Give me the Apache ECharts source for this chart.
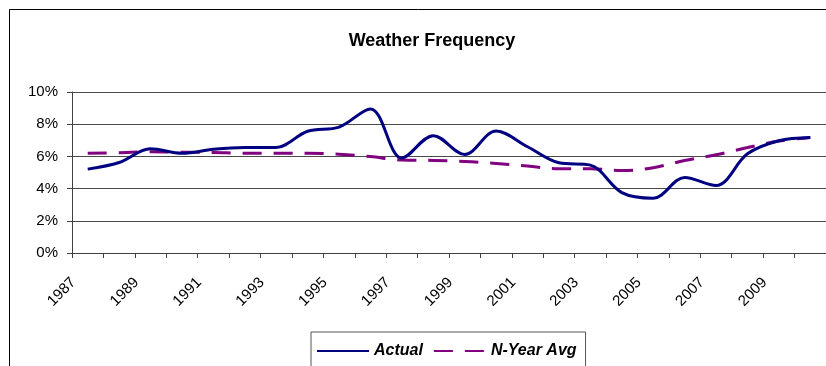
<!DOCTYPE html>
<html>
<head>
<meta charset="utf-8">
<script src="https://cdn.jsdelivr.net/npm/echarts@6/dist/echarts.min.js"></script>
<style>
html,body{margin:0;padding:0;background:#fff;}
#chart{width:826px;height:366px;}
</style>
</head>
<body>
<div id="chart"></div>
<script>
var years = ['1987','1988','1989','1990','1991','1992','1993','1994','1995','1996','1997','1998',
             '1999','2000','2001','2002','2003','2004','2005','2006','2007','2008','2009','2010'];
var actual = [5.21, 5.62, 6.47, 6.19, 6.44, 6.56, 6.56, 7.56, 7.82, 8.95, 5.90, 7.29,
              6.12, 7.58, 6.60, 5.60, 5.46, 3.75, 3.40, 4.69, 4.19, 6.16, 6.97, 7.17];
var nYearAvg = [6.19, 6.23, 6.29, 6.26, 6.24, 6.20, 6.20, 6.19, 6.14, 5.99, 5.77, 5.75,
                5.69, 5.56, 5.40, 5.23, 5.23, 5.12, 5.30, 5.74, 6.10, 6.55, 6.95, 7.18];
var yTicks = [0, 2, 4, 6, 8, 10];

var FONT = 'Liberation Sans';
var chart = echarts.init(document.getElementById('chart'), null, {renderer: 'canvas'});
chart.setOption({
  animation: false,
  backgroundColor: '#ffffff',
  title: {
    text: 'Weather Frequency',
    left: 427, textAlign: 'center', top: 27,
    textStyle: {fontFamily: FONT, fontSize: 18, fontWeight: 'bold', color: '#000'}
  },
  graphic: [{
    type: 'rect', shape: {x: 9.5, y: 9.5, width: 900, height: 400},
    style: {fill: 'none', stroke: '#000', lineWidth: 1}, silent: true
  }],
  legend: {
    left: 311, top: 332,
    padding: [11, 9, 12, 5],
    itemWidth: 52, itemHeight: 14, itemGap: 10,
    borderColor: '#555', borderWidth: 1,
    itemStyle: {opacity: 0, borderWidth: 0},
    textStyle: {fontFamily: FONT, fontSize: 16, fontWeight: 'bold', fontStyle: 'italic', color: '#000'},
    data: ['Actual', 'N-Year Avg']
  },
  grid: {left: 72, top: 92, width: 756, height: 161, containLabel: false},
  xAxis: {
    type: 'category', data: years, boundaryGap: true,
    axisLine: {lineStyle: {color: '#404040', width: 1}},
    axisTick: {show: true, interval: 0, length: 5, lineStyle: {color: '#404040'}},
    axisLabel: {
      interval: 1, rotate: 45, margin: 13, padding: [0, 20, 0, 0],
      fontFamily: FONT, fontSize: 15, color: '#000'
    },
    splitLine: {show: false}
  },
  yAxis: {
    type: 'value', min: 0, max: 10, interval: 2,
    axisLine: {show: true, lineStyle: {color: '#404040', width: 1}},
    axisTick: {show: true, length: 5, lineStyle: {color: '#404040'}},
    axisLabel: {
      margin: 14, fontFamily: FONT, fontSize: 15, color: '#000', padding: [5, 0, 0, 0],
      formatter: function (v) { return yTicks.indexOf(v) >= 0 ? v + '%' : ''; }
    },
    splitLine: {show: true, lineStyle: {color: '#4a4a4a', width: 1}}
  },
  series: [
    {
      name: 'Actual', type: 'line', data: actual, smooth: 0.35,
      symbol: 'none', showSymbol: false,
      lineStyle: {color: '#000080', width: 3},
      itemStyle: {color: '#000080'}, z: 3
    },
    {
      name: 'N-Year Avg', type: 'line', data: nYearAvg, smooth: 0.35,
      symbol: 'none', showSymbol: false,
      lineStyle: {color: '#800080', width: 3, type: [19, 12]},
      itemStyle: {color: '#800080'}, z: 2
    }
  ]
});
</script>
</body>
</html>
